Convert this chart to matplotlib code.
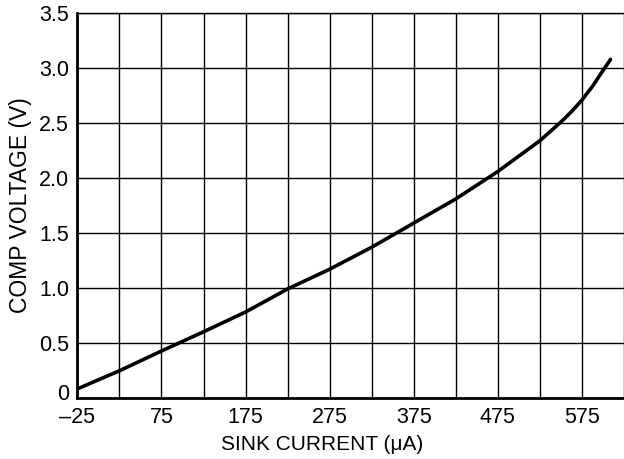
import matplotlib.pyplot as plt
import matplotlib.transforms as mtransforms

plt.rcParams['font.family'] = ['Liberation Sans', 'DejaVu Sans']

# Sink current (uA) and COMP voltage (V)
current = [-25, 25, 75, 125, 175, 225, 275, 325, 375, 425, 475, 525, 550, 562, 575, 588, 600, 609]
voltage = [0.08, 0.245, 0.425, 0.60, 0.78, 0.99, 1.17, 1.37, 1.59, 1.81, 2.06, 2.34, 2.51, 2.60, 2.71, 2.84, 2.98, 3.08]

x_ticks = [-25, 75, 175, 275, 375, 475, 575]
x_labels = ["\u201325", "75", "175", "275", "375", "475", "575"]
y_ticks = [0, 0.5, 1.0, 1.5, 2.0, 2.5, 3.0, 3.5]
y_labels = ["0", "0.5", "1.0", "1.5", "2.0", "2.5", "3.0", "3.5"]

fig = plt.figure(figsize=(6.24, 4.59), dpi=100)
ax = fig.add_axes([0.124, 0.1336, 0.876, 0.8374])

# grid every 50 uA and every 0.5 V
for gx in range(-25, 626, 50):
    ax.axvline(gx, color='black', lw=1.0, zorder=1)
for gy in y_ticks:
    ax.axhline(gy, color='black', lw=1.0, zorder=1)

ax.plot(current, voltage, color='black', lw=2.6, solid_capstyle='round',
        solid_joinstyle='round', zorder=3)

ax.set_xlim(-25, 625)
ax.set_ylim(0, 3.5)
ax.set_xticks(x_ticks)
ax.set_xticklabels(x_labels)
ax.set_yticks(y_ticks)
ax.set_yticklabels(y_labels)
ax.tick_params(length=0, labelsize=15.5)
ax.tick_params(axis='x', pad=7)
ax.tick_params(axis='y', pad=6)

# lift the "0" label a little, as in the reference
zero = ax.get_yticklabels()[0]
zero.set_transform(zero.get_transform() +
                   mtransforms.ScaledTranslation(0, 6 / 100, fig.dpi_scale_trans))

ax.set_xlabel("SINK CURRENT (\u03bcA)", fontsize=15, labelpad=5)
ax.xaxis.label.set_x(0.447)
ax.set_ylabel("COMP VOLTAGE (V)", fontsize=16.5, labelpad=5)

ax.spines['right'].set_visible(False)
ax.spines['top'].set_linewidth(1.0)
ax.spines['left'].set_linewidth(2.0)
ax.spines['bottom'].set_linewidth(2.0)

fig.savefig("out.png", dpi=100)
